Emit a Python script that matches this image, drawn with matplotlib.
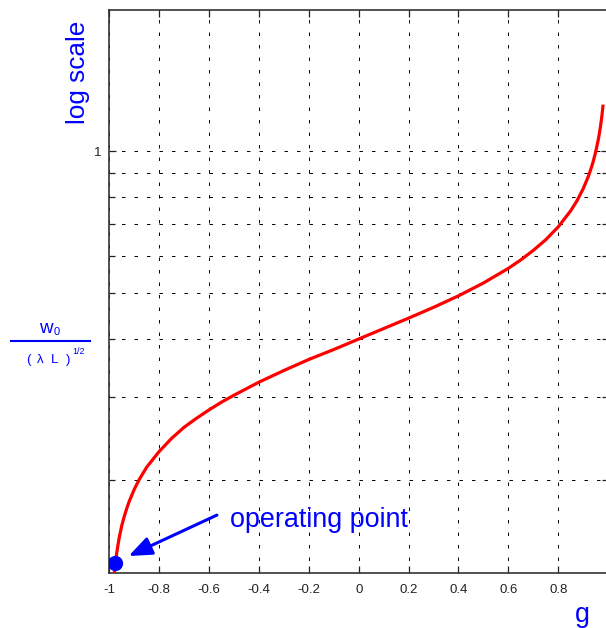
import matplotlib
matplotlib.use('Agg')
import matplotlib.pyplot as plt
from matplotlib.lines import Line2D
from matplotlib.ticker import FixedLocator, NullFormatter, FixedFormatter

# curve values (g, w0/sqrt(lambda L))
g = [-0.985, -0.98, -0.975, -0.97, -0.965, -0.96, -0.95, -0.94, -0.93, -0.92,
     -0.9, -0.88, -0.85, -0.8, -0.75, -0.7, -0.65, -0.6, -0.55, -0.5,
     -0.4, -0.3, -0.2, -0.1, 0.0, 0.1, 0.2, 0.3, 0.4, 0.5,
     0.6, 0.65, 0.7, 0.75, 0.8, 0.85, 0.875, 0.9, 0.92, 0.93,
     0.94, 0.95, 0.96, 0.965, 0.97, 0.975, 0.98]
w = [0.118, 0.1265, 0.1338, 0.140, 0.1457, 0.151, 0.160, 0.1673, 0.174, 0.1802,
     0.191, 0.2005, 0.213, 0.230, 0.2453, 0.259, 0.2707, 0.282, 0.2929, 0.303,
     0.323, 0.342, 0.361, 0.379, 0.399, 0.420, 0.442, 0.466, 0.493, 0.525,
     0.564, 0.588, 0.616, 0.649, 0.691, 0.748, 0.785, 0.833, 0.883, 0.914,
     0.951, 0.997, 1.056, 1.092, 1.136, 1.189, 1.258]

# operating point and arrow
op_g, op_w = -0.977, 0.133
arrow_tip = (-0.9225, 0.1378)
arrow_tail = (-0.5686, 0.1684)

xticks = [-1, -0.8, -0.6, -0.4, -0.2, 0, 0.2, 0.4, 0.6, 0.8, 1]
xtick_labels = ['-1', '-0.8', '-0.6', '-0.4', '-0.2', '0', '0.2', '0.4', '0.6', '0.8', '']
yticks_major = [1]
yticks_minor = [0.2, 0.3, 0.4, 0.5, 0.6, 0.7, 0.8, 0.9]

plt.rcParams['font.family'] = ['Liberation Sans', 'DejaVu Sans']
plt.rcParams['lines.scale_dashes'] = False

W, H = 606, 628
fig = plt.figure(figsize=(W / 100, H / 100), dpi=100)


def px(x, y):
    return x / W, 1 - y / H


ax = fig.add_axes([109.3 / W, 1 - 572.7 / H, (608.1 - 109.3) / W, (572.7 - 10) / H])
ax.set_yscale('log')
ax.set_xlim(-1, 1)
ax.set_ylim(0.127, 2.0)

ax.plot(g, w, color='red', lw=2.3, solid_capstyle='butt', zorder=3)
ax.plot([op_g], [op_w], 'o', color='blue', ms=10, zorder=4)
ax.annotate('', xy=arrow_tip, xytext=arrow_tail,
            arrowprops=dict(arrowstyle='-|>,head_length=0.7,head_width=0.28',
                            color='blue', lw=2.2, mutation_scale=20,
                            shrinkA=0, shrinkB=0), zorder=4)

ax.xaxis.set_major_locator(FixedLocator(xticks))
ax.xaxis.set_major_formatter(FixedFormatter(xtick_labels))
ax.yaxis.set_major_locator(FixedLocator(yticks_major))
ax.yaxis.set_major_formatter(FixedFormatter(['1']))
ax.yaxis.set_minor_locator(FixedLocator(yticks_minor))
ax.yaxis.set_minor_formatter(NullFormatter())
ax.xaxis.set_minor_locator(FixedLocator([]))

ax.tick_params(which='both', direction='in', top=True, right=True,
               labelsize=9.5, labelcolor='#222222', color='#222222')
ax.tick_params(which='major', length=5, width=0.9)
ax.tick_params(which='minor', length=4, width=0.9)
ax.tick_params(axis='x', pad=8)
ax.tick_params(axis='y', pad=6)

grid_kw = dict(color='black', lw=0.7, linestyle=(0, (2.5, 6.5)))
ax.grid(True, which='major', axis='both', **grid_kw)
ax.grid(True, which='minor', axis='y', **grid_kw)

for s in ax.spines.values():
    s.set_color('#333333')
    s.set_linewidth(1.2)

# labels
fig.text(*px(78, 72), 'log scale', rotation=90, color='blue', fontsize=18.8,
         ha='center', va='center')
fig.text(*px(230, 527), 'operating point', color='blue', fontsize=19.4,
         ha='left', va='baseline')
fig.text(*px(575, 622), 'g', color='blue', fontsize=19.4, ha='left', va='baseline')

# y label as a stacked fraction
fig.text(*px(39, 333), 'w', color='blue', fontsize=13.5, ha='left', va='baseline')
fig.text(*px(54, 335), '0', color='blue', fontsize=8, ha='left', va='baseline')
fig.add_artist(Line2D([10.7 / W, 90 / W], [1 - 341 / H, 1 - 341 / H],
                      color='blue', lw=1.5))
fig.text(*px(26, 363), '(', color='blue', fontsize=9.5, ha='left', va='baseline')
fig.text(*px(37, 363), 'λ', color='blue', fontsize=9.5, ha='left', va='baseline')
fig.text(*px(51, 363), 'L', color='blue', fontsize=9.5, ha='left', va='baseline')
fig.text(*px(66, 363), ')', color='blue', fontsize=9.5, ha='left', va='baseline')
fig.text(*px(72, 354), '1/2', color='blue', fontsize=6.5, ha='left', va='baseline')

fig.savefig('out.png', dpi=100)
